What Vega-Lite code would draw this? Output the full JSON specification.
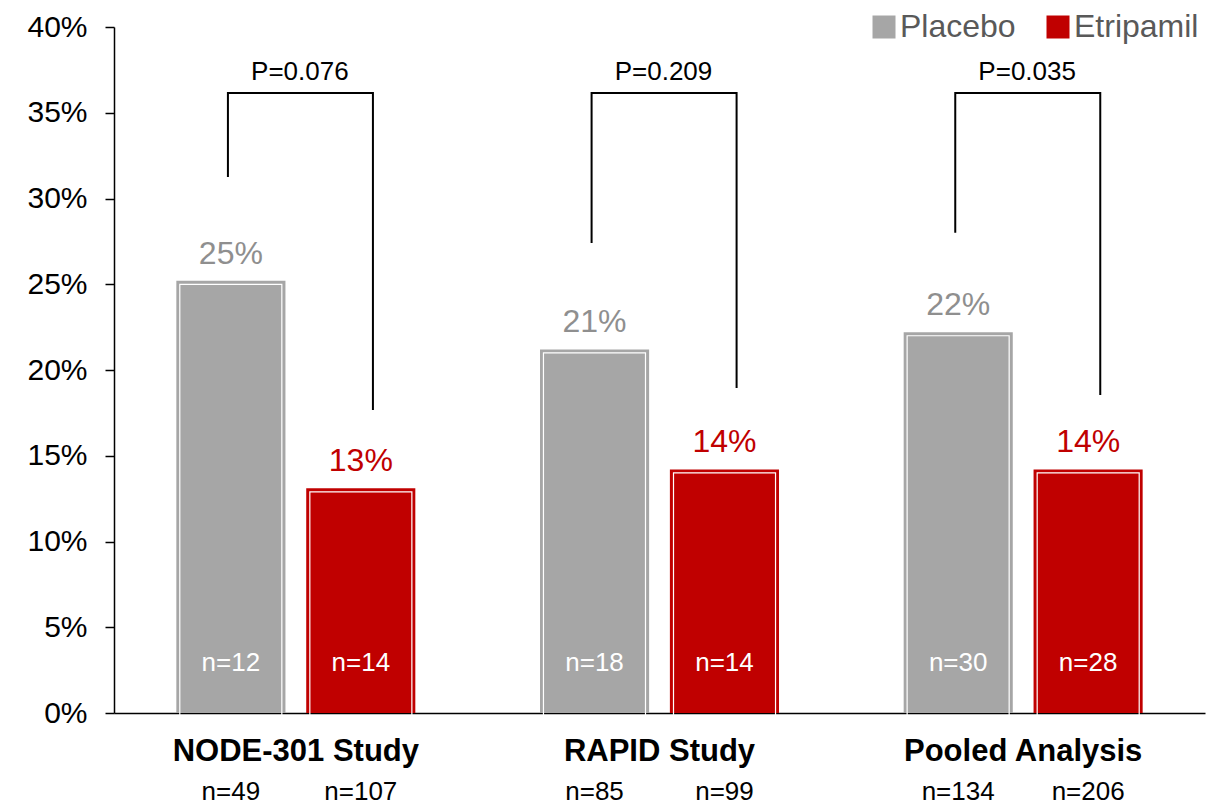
{
  "$schema": "https://vega.github.io/schema/vega-lite/v6.json",
  "width": 1091,
  "height": 686,
  "autosize": "none",
  "padding": {"left": 114, "top": 27, "right": 14, "bottom": 93},
  "background": "white",
  "config": {
    "font": "Liberation Sans",
    "view": {"stroke": null},
    "axis": {"grid": false, "title": null}
  },
  "datasets": {
    "bars": [
      {"study": "NODE-301 Study", "group": "Placebo", "value": 0.252, "inside": "n=12", "total": "n=49"},
      {"study": "NODE-301 Study", "group": "Etripamil", "value": 0.131, "inside": "n=14", "total": "n=107"},
      {"study": "RAPID Study", "group": "Placebo", "value": 0.212, "inside": "n=18", "total": "n=85"},
      {"study": "RAPID Study", "group": "Etripamil", "value": 0.142, "inside": "n=14", "total": "n=99"},
      {"study": "Pooled Analysis", "group": "Placebo", "value": 0.222, "inside": "n=30", "total": "n=134"},
      {"study": "Pooled Analysis", "group": "Etripamil", "value": 0.142, "inside": "n=28", "total": "n=206"}
    ],
    "brackets": [
      {"study": "NODE-301 Study", "side": "L", "y": 0.3125, "seq": 1},
      {"study": "NODE-301 Study", "side": "L", "y": 0.3615, "seq": 2},
      {"study": "NODE-301 Study", "side": "R", "y": 0.3615, "seq": 3},
      {"study": "NODE-301 Study", "side": "R", "y": 0.1767, "seq": 4},
      {"study": "RAPID Study", "side": "L", "y": 0.274, "seq": 1},
      {"study": "RAPID Study", "side": "L", "y": 0.3615, "seq": 2},
      {"study": "RAPID Study", "side": "R", "y": 0.3615, "seq": 3},
      {"study": "RAPID Study", "side": "R", "y": 0.1895, "seq": 4},
      {"study": "Pooled Analysis", "side": "L", "y": 0.28, "seq": 1},
      {"study": "Pooled Analysis", "side": "L", "y": 0.3615, "seq": 2},
      {"study": "Pooled Analysis", "side": "R", "y": 0.3615, "seq": 3},
      {"study": "Pooled Analysis", "side": "R", "y": 0.1854, "seq": 4}
    ],
    "pvals": [
      {"study": "NODE-301 Study", "p": "P=0.076", "y": 0.374},
      {"study": "RAPID Study", "p": "P=0.209", "y": 0.374},
      {"study": "Pooled Analysis", "p": "P=0.035", "y": 0.374}
    ]
  },
  "encoding": {
    "x": {
      "field": "study",
      "type": "nominal",
      "sort": ["NODE-301 Study", "RAPID Study", "Pooled Analysis"],
      "scale": {"paddingInner": 0, "paddingOuter": 0},
      "axis": {
        "labelAngle": 0,
        "labelFontSize": 31,
        "labelFontWeight": "bold",
        "labelColor": "black",
        "labelLimit": 0,
        "ticks": false,
        "domainColor": "black",
        "domainWidth": 1.5,
        "labelPadding": 23
      }
    }
  },
  "resolve": {"scale": {"xOffset": "independent"}},
  "layer": [
    {
      "data": {"name": "bars"},
      "mark": {"type": "bar"},
      "encoding": {
        "xOffset": {"field": "group", "type": "nominal", "sort": ["Placebo", "Etripamil"], "scale": {"type": "band", "paddingInner": 0.16, "paddingOuter": 0.48}},
        "y": {
          "field": "value",
          "type": "quantitative",
          "scale": {"domain": [0, 0.4], "nice": false},
          "axis": {
            "format": ".0%",
            "values": [0, 0.05, 0.1, 0.15, 0.2, 0.25, 0.3, 0.35, 0.4],
            "labelFontSize": 30,
            "labelColor": "black",
            "domainColor": "black",
            "domainWidth": 1.5,
            "tickColor": "black",
            "tickWidth": 1.5,
            "tickSize": 9,
            "labelPadding": 18
          }
        },
        "color": {
          "field": "group",
          "type": "nominal",
          "sort": ["Placebo", "Etripamil"],
          "scale": {"domain": ["Placebo", "Etripamil"], "range": ["#A6A6A6", "#C00000"]},
          "legend": {
            "title": null,
            "orient": "none",
            "legendX": 754,
            "legendY": -16,
            "direction": "horizontal",
            "symbolType": "square",
            "symbolSize": 576,
            "symbolStrokeColor": "white",
            "symbolStrokeWidth": 1,
            "labelFontSize": 32,
            "labelColor": "#595959",
            "labelOffset": 0,
            "columnPadding": 26
          }
        }
      }
    },
    {
      "data": {"name": "bars"},
      "mark": {"type": "bar", "fillOpacity": 0, "stroke": "white", "strokeWidth": 1.2, "yOffset": 3.5},
      "encoding": {
        "xOffset": {"field": "group", "type": "nominal", "sort": ["Placebo", "Etripamil"], "scale": {"type": "band", "paddingInner": 0.2154, "paddingOuter": 0.506}},
        "y": {"field": "value", "type": "quantitative"}
      }
    },
    {
      "data": {"name": "bars"},
      "mark": {"type": "text", "fontSize": 32, "baseline": "middle", "dy": -27},
      "encoding": {
        "xOffset": {"field": "group", "type": "nominal", "sort": ["Placebo", "Etripamil"], "scale": {"type": "point", "padding": 0.899}},
        "y": {"field": "value", "type": "quantitative"},
        "text": {"field": "value", "type": "quantitative", "format": ".0%"},
        "color": {"condition": {"test": "datum.group === 'Placebo'", "value": "#8F8F8F"}, "value": "#C00000"}
      }
    },
    {
      "data": {"name": "bars"},
      "mark": {"type": "text", "fontSize": 26, "baseline": "middle", "dy": -50, "color": "white"},
      "encoding": {
        "xOffset": {"field": "group", "type": "nominal", "sort": ["Placebo", "Etripamil"], "scale": {"type": "point", "padding": 0.899}},
        "y": {"datum": 0},
        "text": {"field": "inside", "type": "nominal"}
      }
    },
    {
      "data": {"name": "bars"},
      "mark": {"type": "text", "fontSize": 26, "baseline": "middle", "dy": 79, "color": "black"},
      "encoding": {
        "xOffset": {"field": "group", "type": "nominal", "sort": ["Placebo", "Etripamil"], "scale": {"type": "point", "padding": 0.899}},
        "y": {"datum": 0},
        "text": {"field": "total", "type": "nominal"}
      }
    },
    {
      "data": {"name": "brackets"},
      "mark": {"type": "line", "color": "black", "strokeWidth": 2},
      "encoding": {
        "xOffset": {"field": "side", "type": "nominal", "sort": ["L", "R"], "scale": {"type": "point", "padding": 0.754, "align": 0.521}},
        "y": {"field": "y", "type": "quantitative"},
        "detail": {"field": "study", "type": "nominal"},
        "order": {"field": "seq", "type": "quantitative"}
      }
    },
    {
      "data": {"name": "pvals"},
      "mark": {"type": "text", "fontSize": 26, "baseline": "middle", "color": "black", "dx": 4},
      "encoding": {
        "y": {"field": "y", "type": "quantitative"},
        "text": {"field": "p", "type": "nominal"}
      }
    }
  ]
}
